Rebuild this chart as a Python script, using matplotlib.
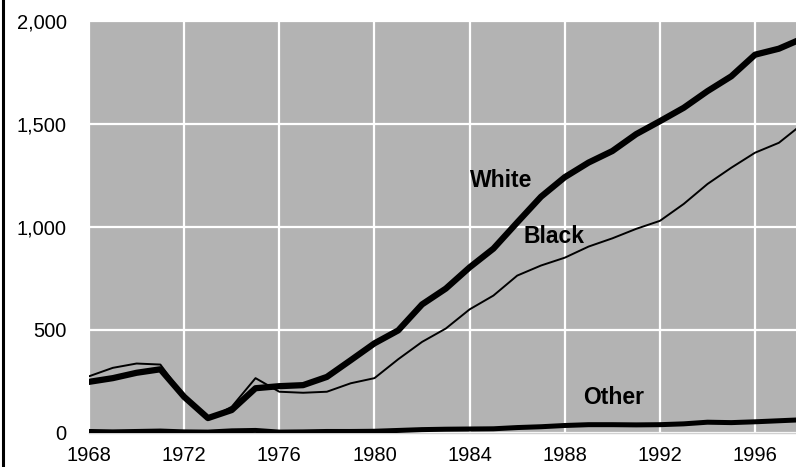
import matplotlib.pyplot as plt
from matplotlib.lines import Line2D

# Data
years = list(range(1968, 1999))
white = [246, 264, 290, 307, 173, 70, 109, 215, 225, 230, 270, 351, 433, 496, 622, 699,
         802, 893, 1020, 1145, 1240, 1311, 1367, 1449, 1512, 1577, 1658, 1730, 1835, 1864, 1914]
black = [273, 314, 335, 330, 175, 65, 125, 264, 198, 193, 198, 239, 264, 356, 440, 505,
         598, 665, 762, 811, 849, 903, 943, 989, 1028, 1110, 1207, 1286, 1359, 1407, 1499]
other = [5, 3, 5, 7, 3, 2, 8, 10, 2, 3, 5, 5, 6, 10, 14, 16,
         17, 18, 24, 28, 34, 38, 38, 37, 38, 42, 50, 48, 52, 57, 62]
xticks = [1968, 1972, 1976, 1980, 1984, 1988, 1992, 1996]
yticks = [0, 500, 1000, 1500, 2000]

plt.rcParams['font.family'] = ['Liberation Sans', 'DejaVu Sans']

fig = plt.figure(figsize=(7.96, 4.67), dpi=100)
ax = fig.add_axes([89 / 796, 34.5 / 467, 707 / 796, 411.8 / 467])
ax.set_facecolor('#b3b3b3')

ax.plot(years, black, color='black', linewidth=1.4, zorder=3)
ax.plot(years, other, color='black', linewidth=3.6, zorder=3)
ax.plot(years, white, color='black', linewidth=4.5, zorder=4)

ax.text(1985.33, 1222, 'White', fontsize=16.5, fontweight='bold', ha='center', va='center')
ax.text(1987.56, 951, 'Black', fontsize=16.5, fontweight='bold', ha='center', va='center')
ax.text(1990.06, 169, 'Other', fontsize=16.5, fontweight='bold', ha='center', va='center')

ax.set_xlim(1968, 1997.72)
ax.set_ylim(0, 2000)
ax.set_xticks(xticks)
ax.set_yticks(yticks)
ax.set_yticklabels(['{:,}'.format(v) for v in yticks])
ax.tick_params(length=0, labelsize=14.5)
ax.tick_params(axis='x', pad=10)
ax.tick_params(axis='y', pad=16)
ax.grid(True, color='white', linewidth=1.6)
ax.set_axisbelow(True)
for s in ['top', 'right', 'left']:
    ax.spines[s].set_visible(False)
ax.spines['bottom'].set_color('#d0d0d0')
ax.spines['bottom'].set_linewidth(1.0)

# black border on the left edge of the image
fig.add_artist(Line2D([2.5 / 796, 2.5 / 796], [0, 1], color='black', linewidth=2.2,
                      transform=fig.transFigure))

plt.savefig('out.png', dpi=100)
